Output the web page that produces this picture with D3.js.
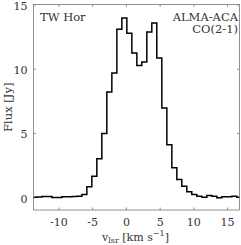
<!DOCTYPE html>
<html>
<head>
<meta charset="utf-8">
<script src="https://cdn.jsdelivr.net/npm/d3@7"></script>
<style>
  body { margin: 0; background: #fff; }
  svg text { font-family: "DejaVu Serif", serif !important; fill: #333; }
</style>
</head>
<body>
<div id="chart"></div>
<script>
// channel centres [km/s] and flux [Jy]
var velocity = [-13.57, -12.83, -12.09, -11.35, -10.61, -9.87, -9.12, -8.38, -7.64, -6.90,
  -6.16, -5.42, -4.68, -3.94, -3.20, -2.46, -1.71, -0.97, -0.23, 0.51,
  1.25, 1.99, 2.73, 3.47, 4.21, 4.95, 5.70, 6.44, 7.18, 7.92,
  8.66, 9.40, 10.14, 10.88, 11.62, 12.36, 13.10, 13.85, 14.59, 15.33,
  16.07, 16.81];
var flux = [0.00, 0.02, 0.05, 0.05, -0.03, -0.03, 0.03, 0.03, 0.05, 0.07,
  0.21, 0.81, 1.63, 3.00, 4.95, 8.19, 9.67, 13.08, 13.94, 12.77,
  11.22, 10.26, 10.52, 12.85, 13.55, 10.83, 6.95, 4.09, 2.28, 1.38,
  0.85, 0.42, 0.21, 0.08, 0.00, 0.13, 0.08, -0.05, 0.03, 0.03,
  0.08, 0.00];
var xTicks = [-10, -5, 0, 5, 10, 15];
var yTicks = [0, 5, 10, 15];
var xRange = [-13.7, 16.84];
var yRange = [-1, 15];

var serif = '"DejaVu Serif", serif';
var W = 241, H = 245;
var margin = {top: 4.5, right: 1.5, bottom: 35, left: 33.5};
var width = W - margin.left - margin.right,
    height = H - margin.top - margin.bottom;

var svg = d3.select("#chart").append("svg")
    .attr("width", W)
    .attr("height", H)
    .attr("font-family", serif),
  g = svg.append("g")
    .attr("transform", "translate(" + margin.left + "," + margin.top + ")");

var x = d3.scaleLinear().domain(xRange).range([0, width]);
var y = d3.scaleLinear().domain(yRange).range([height, 0]);

// ticks pointing inwards on all four sides
function styleAxis(sel){
  sel.attr("font-family", serif);
  sel.select(".domain").remove();
  sel.selectAll(".tick line").attr("stroke", "#777").attr("stroke-width", 0.8);
  sel.selectAll(".tick text").style("font-size", "11px");
}
g.append("g").attr("transform", "translate(0," + height + ")")
  .call(d3.axisBottom(x).tickValues(xTicks).tickSize(-2.5).tickPadding(8)
    .tickFormat(function(d){ return d < 0 ? "-" + Math.abs(d) : d; }))
  .call(styleAxis);
g.append("g")
  .call(d3.axisTop(x).tickValues(xTicks).tickSize(-2.5).tickFormat(""))
  .call(styleAxis);
g.append("g")
  .call(d3.axisLeft(y).tickValues(yTicks).tickSize(-2.5).tickPadding(6))
  .call(styleAxis)
  .selectAll(".tick text").attr("dy", "0.45em");
g.append("g").attr("transform", "translate(" + width + ",0)")
  .call(d3.axisRight(y).tickValues(yTicks).tickSize(-2.5).tickFormat(""))
  .call(styleAxis);

g.append("clipPath").attr("id", "clip")
  .append("rect").attr("width", width).attr("height", height);

// stairs: each channel drawn as a flat segment across its width
var half = (velocity[1] - velocity[0]) / 2;
var pts = [];
velocity.forEach(function(v, i){
  pts.push([v - half, flux[i]]);
  pts.push([v + half, flux[i]]);
});
g.append("path")
  .datum(pts)
  .attr("clip-path", "url(#clip)")
  .attr("fill", "none")
  .attr("stroke", "#000")
  .attr("stroke-width", 1.5)
  .attr("d", d3.line()
    .x(function(d){ return x(d[0]); })
    .y(function(d){ return y(d[1]); }));

g.append("rect")
  .attr("width", width).attr("height", height)
  .attr("fill", "none").attr("stroke", "#777").attr("stroke-width", 0.8);

g.append("text").attr("x", 6.5).attr("y", 16)
  .style("font-size", "11.5px").text("TW Hor");
g.append("text").attr("x", width - 1.5).attr("y", 16)
  .attr("text-anchor", "end").style("font-size", "11.5px").text("ALMA-ACA");
g.append("text").attr("x", width - 1.5).attr("y", 28.5)
  .attr("text-anchor", "end").style("font-size", "11.5px").text("CO(2-1)");

var xl = svg.append("text")
  .attr("x", margin.left + width / 2 - 1).attr("y", 240.5)
  .attr("text-anchor", "middle").style("font-size", "11px");
xl.append("tspan").text("v");
xl.append("tspan").attr("dy", 2.5).style("font-size", "8px").text("lsr");
xl.append("tspan").attr("dy", -2.5).text(" [km s");
xl.append("tspan").attr("dy", -4.5).style("font-size", "8px").text("\u22121");
xl.append("tspan").attr("dy", 4.5).text("]");

svg.append("text")
  .attr("transform", "translate(11.5," + (margin.top + height / 2) + ") rotate(-90)")
  .attr("text-anchor", "middle").style("font-size", "11.5px")
  .text("Flux [Jy]");
</script>
</body>
</html>
